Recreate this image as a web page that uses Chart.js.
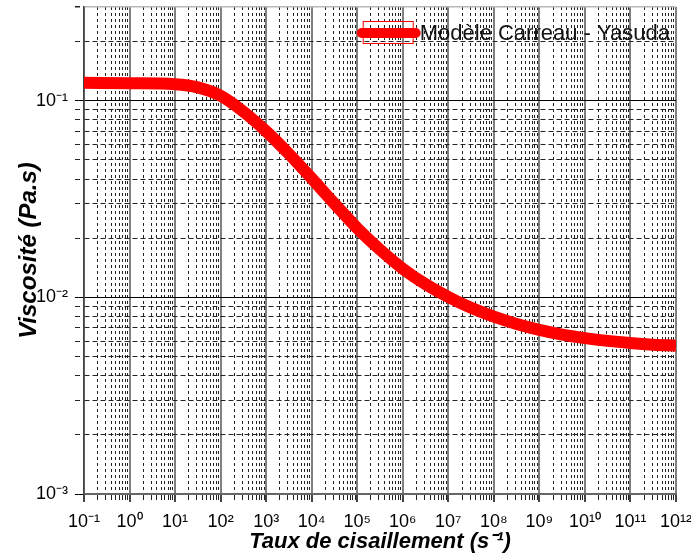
<!DOCTYPE html>
<html>
<head>
<meta charset="utf-8">
<script src="https://cdn.jsdelivr.net/npm/chart.js@4"></script>
<style>
  html, body { margin: 0; padding: 0; background: #fff; }
  #wrap { width: 691px; height: 555px; }
</style>
</head>
<body>
<div id="wrap"><canvas id="viscosity"></canvas></div>
<script>
// shear rate (1/s) and viscosity (Pa.s)
const shearRates = [0.1, 1, 10, 31.6, 100, 316, 1e3, 3160, 1e4, 3.16e4, 1e5, 3.16e5, 1e6, 3.16e6, 1e7, 3.16e7, 1e8, 3.16e8, 1e9, 3.16e9, 1e10, 3.16e10, 1e11, 3.16e11, 1e12];
const viscosity = [0.1235, 0.123, 0.1215, 0.117, 0.106, 0.0881, 0.0700, 0.0537, 0.0403, 0.0300, 0.0225, 0.0175, 0.0140, 0.01167, 0.01005, 0.00885, 0.00798, 0.00733, 0.00684, 0.00647, 0.00621, 0.00601, 0.00586, 0.00575, 0.00568];

const xDecades = [-1, 0, 1, 2, 3, 4, 5, 6, 7, 8, 9, 10, 11, 12];
const yDecades = [-3, -2, -1];
const xMin = 0.1, xMax = 1e12;
const yMin = 0.001, yMax = 0.3;
const seriesLabel = 'Modèle Carreau - Yasuda';

Chart.defaults.font.family = '"Liberation Sans", Arial, sans-serif';
Chart.defaults.color = '#000';

const sup = {'-': '⁻', '0': '⁰', '1': '¹', '2': '²', '3': '³', '4': '⁴', '5': '⁵', '6': '⁶', '7': '⁷', '8': '⁸', '9': '⁹'};
function pow10Label(e) {
  return '10' + String(e).split('').map(c => sup[c]).join('');
}

// 1..9 x 10^n for every decade, labels only on the powers of ten
function logTicks(decades, max) {
  const ticks = [];
  decades.forEach(e => {
    for (let k = 1; k <= 9; k++) {
      const v = Number((k * Math.pow(10, e)).toPrecision(6));
      if (v <= max * 1.000001) ticks.push({value: v, major: k === 1, exp: e, edge: Math.abs(v - max) < max * 1e-6});
    }
  });
  return ticks;
}

const insideLegend = {
  id: 'insideLegend',
  afterDatasetsDraw(chart) {
    const {ctx, chartArea} = chart;
    const ds = chart.data.datasets[0];
    ctx.save();
    ctx.font = '22px "Liberation Sans", Arial, sans-serif';
    const textW = ctx.measureText(ds.label).width;
    const textX = chartArea.right - 6 - textW;
    const y = chartArea.top + 26;
    const x1 = textX - 57, x2 = textX - 7;
    ctx.strokeStyle = ds.borderColor;
    ctx.lineWidth = 1;
    ctx.strokeRect(x1 + 0.5, y - 11.5, x2 - x1, 22);
    ctx.lineWidth = 10;
    ctx.lineCap = 'round';
    ctx.beginPath();
    ctx.moveTo(x1 - 1, y);
    ctx.lineTo(x2 + 3, y);
    ctx.stroke();
    ctx.fillStyle = '#111';
    ctx.textBaseline = 'middle';
    ctx.fillText(ds.label, textX, y + 1);
    ctx.restore();
  }
};

const minorDash = ctx => (ctx.tick && !ctx.tick.major && !ctx.tick.edge) ? [5, 3] : [];

new Chart(document.getElementById('viscosity'), {
  type: 'line',
  data: {
    datasets: [{
      label: seriesLabel,
      data: shearRates.map((x, i) => ({x: x, y: viscosity[i]})),
      borderColor: '#ff0000',
      backgroundColor: '#ff0000',
      borderWidth: 12,
      pointRadius: 0,
      cubicInterpolationMode: 'monotone',
      clip: 0
    }]
  },
  options: {
    responsive: true,
    maintainAspectRatio: false,
    animation: false,
    layout: { padding: { top: 7, right: 15, left: 0, bottom: 0 } },
    plugins: {
      legend: { display: false },
      tooltip: { enabled: false }
    },
    scales: {
      x: {
        type: 'logarithmic',
        min: xMin,
        max: xMax,
        afterBuildTicks: scale => { scale.ticks = logTicks(xDecades, xMax); },
        afterFit: scale => { scale.height = 61; scale.paddingLeft = 0; scale.paddingRight = 0; },
        ticks: {
          autoSkip: false,
          maxRotation: 0,
          minRotation: 0,
          padding: 9,
          font: { size: 18 },
          callback: (v, i, ticks) => ticks[i].major ? pow10Label(ticks[i].exp) : ''
        },
        grid: {
          color: ctx => ctx.tick.edge ? '#808080' : ctx.tick.major ? '#808080' : '#222',
          lineWidth: ctx => ctx.tick.major || ctx.tick.edge ? 2 : 1,
          tickLength: 8,
          tickColor: ctx => ctx.tick.major ? '#444' : '#222',
          tickBorderDash: ctx => ctx.tick.major ? [] : [5, 10]
        },
        border: { color: '#666', width: 2, dash: ctx => (ctx.tick && !ctx.tick.major && !ctx.tick.edge) ? [3, 3] : [] },
        title: {
          display: true,
          text: 'Taux de cisaillement (s⁻¹)',
          font: { size: 22, weight: 'bold', style: 'italic' },
          padding: { top: 0, bottom: 0 }
        }
      },
      y: {
        type: 'logarithmic',
        min: yMin,
        max: yMax,
        afterBuildTicks: scale => { scale.ticks = logTicks(yDecades, yMax); },
        afterFit: scale => { scale.width = 84; scale.paddingTop = 0; scale.paddingBottom = 0; },
        ticks: {
          autoSkip: false,
          padding: 7,
          font: { size: 18 },
          callback: (v, i, ticks) => ticks[i].major ? pow10Label(ticks[i].exp) : ''
        },
        grid: {
          color: ctx => ctx.tick.edge ? '#b8b8b8' : ctx.tick.major ? '#000' : '#222',
          lineWidth: ctx => ctx.tick.edge ? 1.5 : 1,
          tickLength: 9,
          tickColor: ctx => ctx.tick.major ? '#000' : '#222',
          tickBorderDash: ctx => ctx.tick.major ? [] : [5, 3]
        },
        border: { color: '#404040', width: 1.5, dash: minorDash },
        title: {
          display: true,
          text: 'Viscosité (Pa.s)',
          font: { size: 24, weight: 'bold', style: 'italic' },
          padding: { top: 15, bottom: 0 }
        }
      }
    }
  },
  plugins: [insideLegend]
});
</script>
</body>
</html>
